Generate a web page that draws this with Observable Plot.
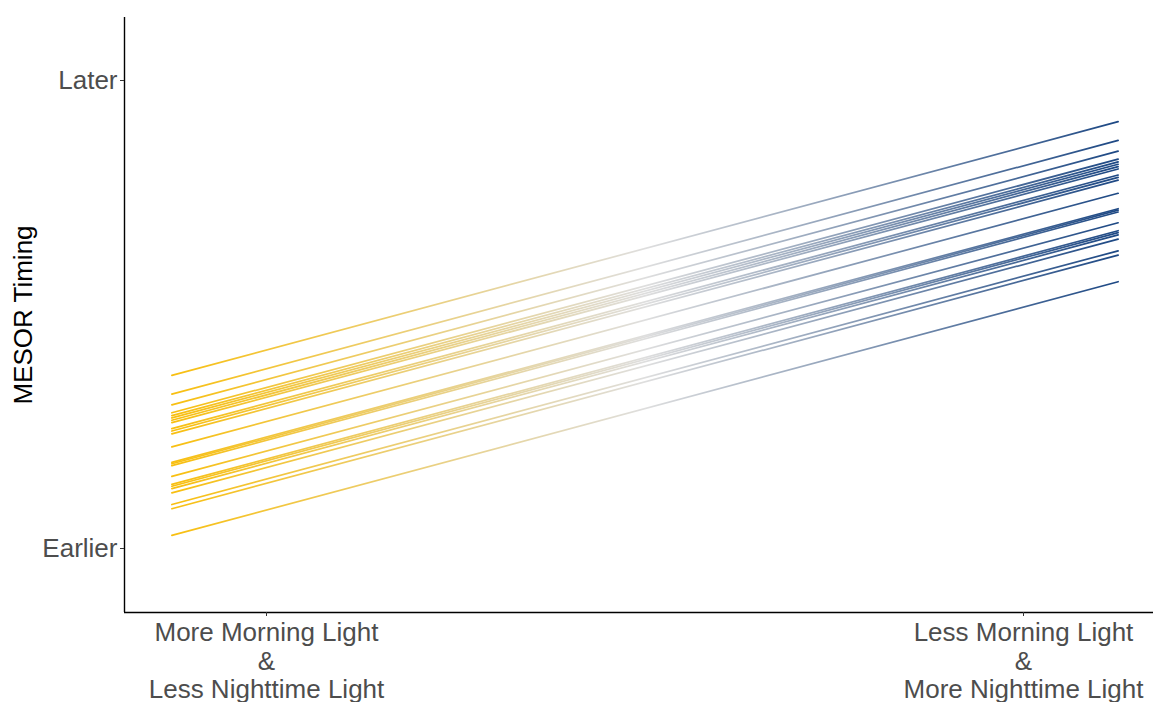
<!DOCTYPE html>
<html>
<head>
<meta charset="utf-8">
<script src="https://cdn.jsdelivr.net/npm/d3@7"></script>
<script src="https://cdn.jsdelivr.net/npm/@observablehq/plot@0.6"></script>
<style>
  html, body { margin: 0; padding: 0; background: #fff; }
  #chart { width: 1153px; height: 702px; }
</style>
</head>
<body>
<div id="chart"></div>
<script>
// x categories (positions 1 and 2)
const xTickValues = [1, 2];
const xTickLabels = ["More Morning Light\n&\nLess Nighttime Light", "Less Morning Light\n&\nMore Nighttime Light"];
const yTickValues = [0, 1];
const yTickLabels = ["Earlier", "Later"];
const xStart = 0.875;
const xEnd = 2.125;
// per-line fitted values (arbitrary units: Earlier = 0, Later = 1)
const startValues = [0.370, 0.330, 0.307, 0.290, 0.284, 0.279, 0.274, 0.269, 0.256, 0.251, 0.245, 0.217, 0.184, 0.181, 0.177, 0.154, 0.137, 0.133, 0.128, 0.119, 0.094, 0.085, 0.028];
const endValues   = [0.912, 0.872, 0.849, 0.832, 0.826, 0.821, 0.816, 0.811, 0.798, 0.793, 0.787, 0.759, 0.726, 0.723, 0.719, 0.696, 0.679, 0.675, 0.670, 0.661, 0.636, 0.627, 0.570];

const rows = [];
startValues.forEach((v, i) => {
  rows.push({id: i, x: xStart, y: v});
  rows.push({id: i, x: xEnd, y: endValues[i]});
});

const W = 1153, H = 702;
const mL = 124, mT = 17, mB = 90, mR = 0;
// pixel layout: x=1 -> 266, x=2 -> 1023
const pxPerX = 757;
const xDom = [1 - (266 - mL) / pxPerX, 1 + (W - 266) / pxPerX];
const pxPerY = 468;
const yDom = [-(H - mB - 548) / pxPerY, (548 - mT) / pxPerY];

const plot = Plot.plot({
  width: W,
  height: H,
  marginLeft: mL,
  marginRight: mR,
  marginTop: mT,
  marginBottom: mB,
  style: {fontFamily: "Liberation Sans, Arial, sans-serif", background: "#fff"},
  x: {domain: xDom},
  y: {domain: yDom},
  marks: [
    Plot.line(rows, {x: "x", y: "y", z: "id", stroke: "url(#lineGrad)", strokeWidth: 1.7}),
    Plot.ruleX([xDom[0]], {stroke: "#000", strokeWidth: 1.4}),
    Plot.ruleY([yDom[0]], {stroke: "#000", strokeWidth: 1.4}),
    Plot.axisX({
      ticks: xTickValues,
      tickFormat: (d) => xTickLabels[xTickValues.indexOf(d)],
      tickSize: 4,
      tickPadding: 5,
      stroke: "#333",
      fontSize: 26,
      fill: "#4d4d4d",
      lineHeight: 1.08,
      label: null
    }),
    Plot.axisY({
      ticks: yTickValues,
      tickFormat: (d) => yTickLabels[yTickValues.indexOf(d)],
      tickSize: 4,
      tickPadding: 3,
      stroke: "#333",
      fontSize: 26,
      fill: "#4d4d4d",
      label: null
    }),
    Plot.text(["MESOR Timing"], {frameAnchor: "left", textAnchor: "middle", rotate: -90, dx: -101, fontSize: 26, fill: "#000", text: (d) => d})
  ]
});

// gradient along x from line start to line end
const xs = plot.scale("x");
const x1 = xs.apply(xStart), x2 = xs.apply(xEnd);
const ns = "http://www.w3.org/2000/svg";
const defs = document.createElementNS(ns, "defs");
const grad = document.createElementNS(ns, "linearGradient");
grad.setAttribute("id", "lineGrad");
grad.setAttribute("gradientUnits", "userSpaceOnUse");
grad.setAttribute("x1", x1);
grad.setAttribute("x2", x2);
grad.setAttribute("y1", 0);
grad.setAttribute("y2", 0);
[["0%", "#F8BF10"], ["50%", "#DEDEDE"], ["100%", "#1D4884"]].forEach(([o, c]) => {
  const s = document.createElementNS(ns, "stop");
  s.setAttribute("offset", o);
  s.setAttribute("stop-color", c);
  grad.appendChild(s);
});
defs.appendChild(grad);
plot.insertBefore(defs, plot.firstChild);
document.getElementById("chart").appendChild(plot);
</script>
</body>
</html>
